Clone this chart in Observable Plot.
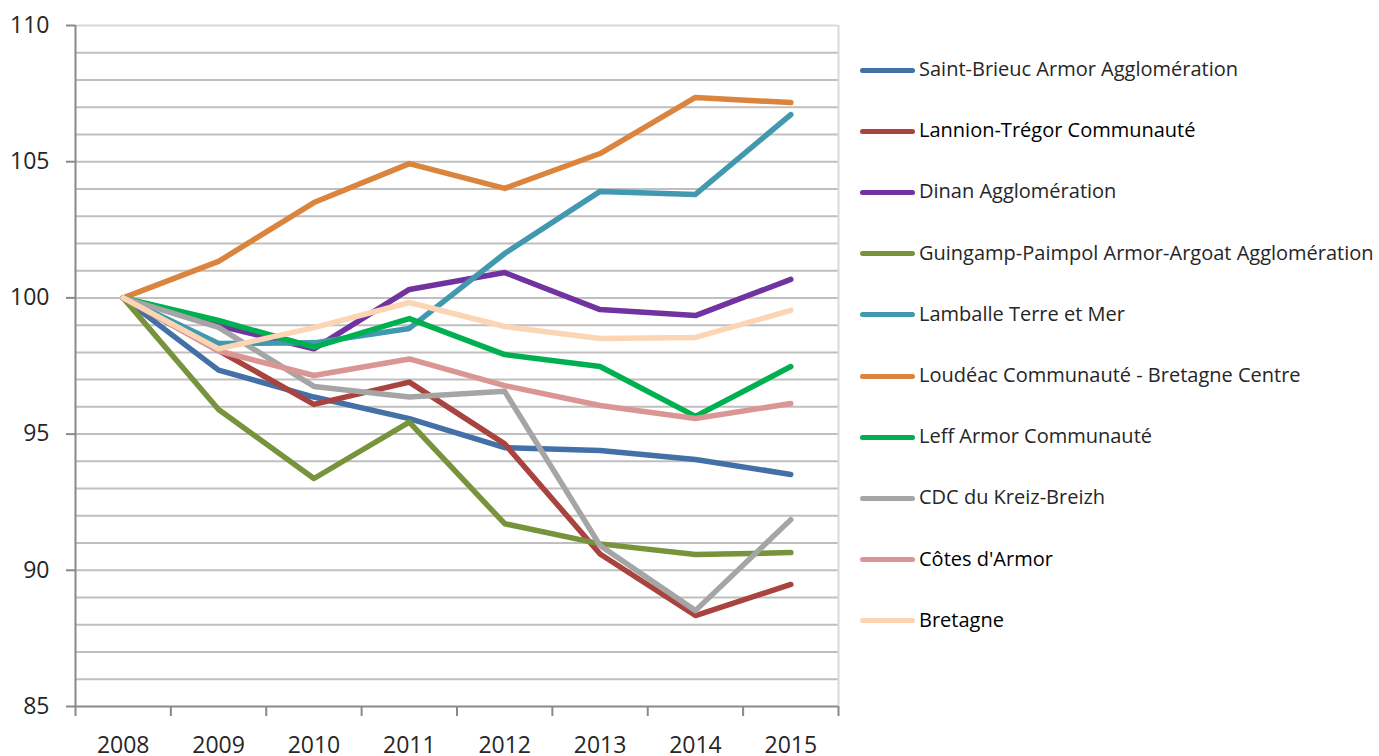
<!DOCTYPE html>
<html><head><meta charset="utf-8">
<script src="https://cdn.jsdelivr.net/npm/d3@7"></script>
<script src="https://cdn.jsdelivr.net/npm/@observablehq/plot@0.6"></script>
<style>
body{margin:0;background:#fff;overflow:hidden;}
#wrap{position:relative;width:1379px;height:756px;overflow:hidden;font-family:"Open Sans",sans-serif;}
#wrap svg{position:absolute;left:0;top:0;}
.item{position:absolute;left:860px;height:0;white-space:nowrap;}
.sw{position:absolute;left:0;top:-2.5px;width:55px;height:5px;border-radius:3px;}
.lb{position:absolute;left:59px;top:-15px;font-size:20px;line-height:28px;color:#262626;}
</style></head><body><div id="wrap"></div>
<script>
const years = [2008, 2009, 2010, 2011, 2012, 2013, 2014, 2015];
const seriesNames = [
  "Saint-Brieuc Armor Agglomération",
  "Lannion-Trégor Communauté",
  "Dinan Agglomération",
  "Guingamp-Paimpol Armor-Argoat Agglomération",
  "Lamballe Terre et Mer",
  "Loudéac Communauté - Bretagne Centre",
  "Leff Armor Communauté",
  "CDC du Kreiz-Breizh",
  "Côtes d'Armor",
  "Bretagne"
];
const seriesColors = ["#4470a8", "#a8433f", "#7133a0", "#77933c", "#4198af", "#db843d", "#00b050", "#a5a5a5", "#da9694", "#fcd5b5"];
const labelColors = ["#262626", "#000", "#262626", "#262626", "#262626", "#262626", "#262626", "#262626", "#000", "#000"];

const saintBrieuc = [100, 97.35, 96.36, 95.57, 94.5, 94.4, 94.07, 93.52];
const lannion     = [100, 98.07, 96.09, 96.91, 94.64, 90.6, 88.34, 89.48];
const dinan       = [100, 98.98, 98.13, 100.31, 100.93, 99.57, 99.35, 100.68];
const guingamp    = [100, 95.9, 93.37, 95.44, 91.71, 90.97, 90.58, 90.65];
const lamballe    = [100, 98.33, 98.35, 98.88, 101.63, 103.91, 103.8, 106.73];
const loudeac     = [100, 101.34, 103.5, 104.93, 104.02, 105.3, 107.36, 107.17];
const leff        = [100, 99.17, 98.19, 99.24, 97.92, 97.48, 95.65, 97.48];
const kreizBreizh = [100, 98.92, 96.75, 96.36, 96.57, 90.91, 88.52, 91.86];
const cotesArmor  = [100, 98.05, 97.15, 97.76, 96.78, 96.05, 95.57, 96.12];
const bretagne    = [100, 98.13, 98.91, 99.83, 98.95, 98.51, 98.55, 99.54];

const seriesValues = [saintBrieuc, lannion, dinan, guingamp, lamballe, loudeac, leff, kreizBreizh, cotesArmor, bretagne];
const yTicks = [85, 90, 95, 100, 105, 110];

const rows = [];
seriesNames.forEach((name, i) => {
  years.forEach((yr, j) => rows.push({name, year: yr, value: seriesValues[i][j]}));
});

const boundaries = d3.range(years[0] - 0.5, years[years.length - 1] + 1, 1);
const gridValues = d3.range(86, 110, 1);

const chart = Plot.plot({
  width: 1379,
  height: 756,
  marginLeft: 75,
  marginRight: 541,
  marginTop: 25,
  marginBottom: 50,
  style: {fontFamily: "'Open Sans', sans-serif", fontSize: "23px", background: "#fff", overflow: "hidden"},
  x: {domain: [years[0] - 0.5, years[years.length - 1] + 0.5]},
  y: {domain: [85, 110]},
  color: {domain: seriesNames, range: seriesColors},
  marks: [
    Plot.ruleY(gridValues, {stroke: "#bfbfbf", strokeWidth: 2}),
    Plot.ruleY([110], {stroke: "#d9d9d9", strokeWidth: 2}),
    Plot.ruleX([boundaries[boundaries.length - 1]], {stroke: "#d9d9d9", strokeWidth: 2}),
    Plot.line(rows, {x: "year", y: "value", z: "name", stroke: "name", strokeWidth: 5.5, strokeLinejoin: "round", strokeLinecap: "round"}),
    Plot.ruleY([85], {stroke: "#898989", strokeWidth: 2}),
    Plot.ruleX([boundaries[0]], {stroke: "#898989", strokeWidth: 2}),
    Plot.axisY({ticks: yTicks, tickSize: 9, tickPadding: 17, stroke: "#898989", strokeWidth: 2, fill: "#262626", fontSize: 23, label: null, tickFormat: d => String(d)}),
    Plot.axisX({ticks: boundaries, tickSize: 10, stroke: "#898989", strokeWidth: 2, tickFormat: () => "", label: null}),
    Plot.axisX({ticks: years, tickSize: 0, tickPadding: 30, fill: "#262626", fontSize: 23, label: null, tickFormat: d => String(d)})
  ]
});

const wrap = document.getElementById("wrap");
wrap.appendChild(chart);

seriesNames.forEach((name, i) => {
  const item = document.createElement("div");
  item.className = "item";
  item.style.top = (70 + i * 61.2) + "px";
  const sw = document.createElement("div");
  sw.className = "sw";
  sw.style.background = seriesColors[i];
  const lb = document.createElement("div");
  lb.className = "lb";
  lb.style.color = labelColors[i];
  lb.textContent = name;
  item.appendChild(sw);
  item.appendChild(lb);
  wrap.appendChild(item);
});
</script>
</body></html>
